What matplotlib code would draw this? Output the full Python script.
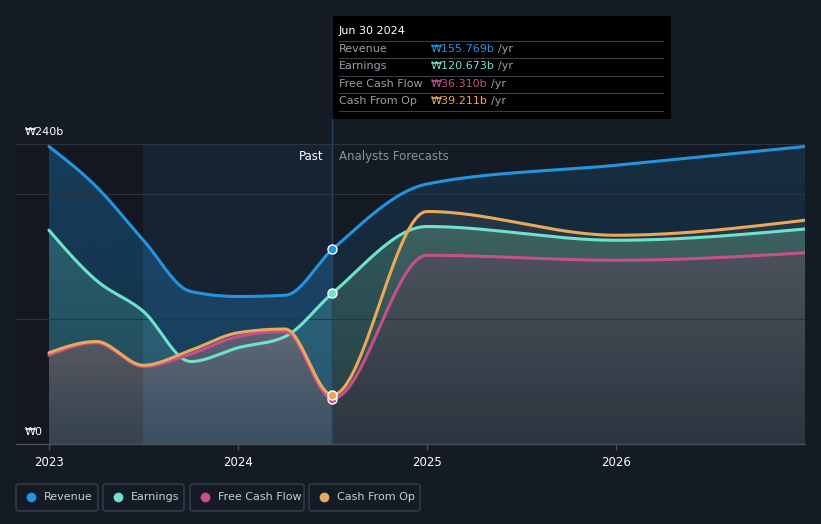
import numpy as np
import matplotlib.pyplot as plt
from matplotlib.patches import FancyBboxPatch, Rectangle, Polygon

# quarterly past values + yearly analyst forecasts (₩b)
dates = [2023.0, 2023.25, 2023.5, 2023.75, 2024.0, 2024.25, 2024.5, 2025.0, 2026.0, 2027.0]
revenue = [238, 206, 163, 122, 118, 119, 155.769, 208, 223, 238]
earnings = [171, 131, 106, 66, 77, 86, 120.673, 174, 163, 172]
fcf = [71, 81, 62, 72, 86, 90, 36.310, 151, 147, 153]
cfo = [73, 82, 63, 75, 89, 92, 39.211, 186, 167, 179]

series = [
    ("Revenue", revenue, "#2394df"),
    ("Earnings", earnings, "#6fe2cc"),
    ("Free Cash Flow", fcf, "#c8508a"),
    ("Cash From Op", cfo, "#e9a95a"),
]
tooltip_values = ["₩155.769b", "₩120.673b", "₩36.310b", "₩39.211b"]
year_ticks = [2023, 2024, 2025, 2026]
now = 2024.5

BG = "#151b25"


def monotone(x, y, n=800):
    # d3 style monotone cubic (curveMonotoneX)
    x = np.asarray(x, float)
    y = np.asarray(y, float)
    h = np.diff(x)
    s = np.diff(y) / h
    m = np.zeros_like(y)
    for i in range(1, len(x) - 1):
        p = (s[i - 1] * h[i] + s[i] * h[i - 1]) / (h[i - 1] + h[i])
        m[i] = (np.sign(s[i - 1]) + np.sign(s[i])) * min(abs(s[i - 1]), abs(s[i]), 0.5 * abs(p))
    m[0] = (3 * s[0] - m[1]) / 2
    m[-1] = (3 * s[-1] - m[-2]) / 2
    xs = np.union1d(np.linspace(x[0], x[-1], n), x)
    idx = np.clip(np.searchsorted(x, xs, side="right") - 1, 0, len(x) - 2)
    t = (xs - x[idx]) / h[idx]
    h00 = 2 * t**3 - 3 * t**2 + 1
    h10 = t**3 - 2 * t**2 + t
    h01 = -2 * t**3 + 3 * t**2
    h11 = t**3 - t**2
    ys = h00 * y[idx] + h10 * h[idx] * m[idx] + h01 * y[idx + 1] + h11 * h[idx] * m[idx + 1]
    return xs, ys


def rgba(rgb, a):
    return np.array([rgb[0] / 255, rgb[1] / 255, rgb[2] / 255, a])


def grad_fill(ax, xs, ys, top, bot):
    # vertical gradient under a curve, top colour at the curve's max
    ymax = ys.max()
    f = np.linspace(0, 1, 256)[:, None]
    img = bot + (top - bot) * f
    img = np.repeat(img[:, None, :], 2, axis=1)
    im = ax.imshow(img, extent=(xs[0], xs[-1], 0, ymax), origin="lower",
                   aspect="auto", interpolation="bilinear", zorder=2)
    verts = [(xs[0], 0)] + list(zip(xs, ys)) + [(xs[-1], 0)]
    clip = Polygon(verts, closed=True, facecolor="none", edgecolor="none", transform=ax.transData)
    ax.add_patch(clip)
    im.set_clip_path(clip)


fig = plt.figure(figsize=(8.21, 5.24), dpi=100, facecolor=BG)
ax = fig.add_axes([16 / 821, 1 - 444 / 524, (805 - 16) / 821, 300 / 524])
ax.set_facecolor(BG)

x0 = 2023 - 33 / 189.3

# fill styles: (top colour, top alpha, bottom colour, bottom alpha), past / forecast
past_fill = {
    "Revenue": ((35, 148, 223), 0.36, (35, 148, 223), 0.22),
    "Cash From Op": ((150, 140, 135), 0.25, (150, 140, 135), 0.18),
    "Earnings": ((111, 226, 204), 0.26, (111, 226, 204), 0.16),
    "Free Cash Flow": ((112, 102, 112), 0.78, (66, 68, 82), 0.65),
}
fc_fill = {
    "Revenue": ((35, 148, 223), 0.15, (35, 148, 223), 0.08),
    "Cash From Op": ((160, 150, 140), 0.12, (160, 150, 140), 0.06),
    "Earnings": ((125, 215, 170), 0.27, (125, 215, 170), 0.14),
    "Free Cash Flow": ((88, 76, 92), 0.62, (44, 46, 58), 0.6),
}
order = ["Revenue", "Cash From Op", "Earnings", "Free Cash Flow"]
data = {name: vals for name, vals, col in series}

for name in order:
    xs, ys = monotone(dates, data[name])
    past = xs <= now
    fut = xs >= now
    p = past_fill[name]
    grad_fill(ax, xs[past], ys[past], rgba(p[0], p[1]), rgba(p[2], p[3]))
    p = fc_fill[name]
    grad_fill(ax, xs[fut], ys[fut], rgba(p[0], p[1]), rgba(p[2], p[3]))

# background bands drawn over the fills
ax.axvspan(x0, 2023.5, color="#000000", alpha=0.12, lw=0, zorder=3)
ax.axvspan(2023.5, now, color="#2a6eb0", alpha=0.1, lw=0, zorder=3)
ax.axvline(now, color="#25425e", lw=1, zorder=3)
ax.plot([now, now], [240, 240 + 25 / 1.25], color="#25425e", lw=1, clip_on=False)

for gy in [100, 200, 240]:
    ax.axhline(gy, color="#2d3440", lw=0.8, zorder=3.5)

for name, vals, col in series:
    xs, ys = monotone(dates, vals)
    ax.plot(xs, ys, color=col, lw=2.2, zorder=4, solid_capstyle="round")

for name, vals, col in series:
    v = vals[dates.index(now)]
    ax.plot([now], [v], "o", ms=6.5, color=col, mec="white", mew=1, zorder=6)

ax.set_xlim(x0, 2027.0)
ax.set_ylim(0, 240)

for sp in ["top", "right", "left"]:
    ax.spines[sp].set_visible(False)
ax.spines["bottom"].set_color("#4a515c")
ax.spines["bottom"].set_linewidth(1)
ax.spines["bottom"].set_zorder(7)

ax.set_yticks([])
ax.set_xticks(year_ticks)
ax.set_xticklabels([str(y) for y in year_ticks], color="white", fontsize=8.5)
ax.tick_params(axis="x", colors="#4a515c", length=4, width=1, pad=5, labelcolor="white")

ax.text(x0 + 9 / 189.3, 240 + 9.5, "₩240b", color="white", fontsize=8, va="center", ha="left")
ax.text(x0 + 9 / 189.3, 9.5, "₩0", color="white", fontsize=8, va="center", ha="left", zorder=8)

ax.text(now - 9 / 189.3, 230, "Past", color="white", fontsize=8.5, ha="right", va="center", zorder=8)
ax.text(now + 7 / 189.3, 230, "Analysts Forecasts", color="#8b919a", fontsize=8.5,
        ha="left", va="center", zorder=8)

# tooltip box
W, H = 821, 524
def fx(px):
    return px / W
def fy(py):
    return 1 - py / H

fig.patches.append(Rectangle((fx(333), fy(119)), fx(671) - fx(333), fy(16) - fy(119),
                             transform=fig.transFigure, facecolor="black", edgecolor="none", zorder=10))
fig.text(fx(339), fy(31), "Jun 30 2024", color="white", fontsize=8, va="center", ha="left", zorder=11)
row_y = [49, 66, 84, 101]
for i, (name, vals, col) in enumerate(series):
    fig.text(fx(339), fy(row_y[i]), name, color="#9aa0a8", fontsize=8, va="center", zorder=11)
    t = fig.text(fx(431), fy(row_y[i]), tooltip_values[i], color=col, fontsize=8, va="center", zorder=11)
    fig.canvas.draw()
    bb = t.get_window_extent()
    fig.text(bb.x1 / W + fx(3), fy(row_y[i]), "/yr", color="#9aa0a8", fontsize=8, va="center", zorder=11)
for ly in [41, 58, 76, 93, 111]:
    fig.lines.append(plt.Line2D([fx(339), fx(663)], [fy(ly), fy(ly)], transform=fig.transFigure,
                                color="#3a3f47", lw=0.8, zorder=11))

# legend buttons
boxes = [(16, 98), (103, 184), (190, 304), (309, 420)]
for (name, vals, col), (bx0, bx1) in zip(series, boxes):
    fig.patches.append(FancyBboxPatch((fx(bx0), fy(511)), fx(bx1) - fx(bx0), fy(484) - fy(511),
                                      boxstyle="round,pad=0,rounding_size=0.004",
                                      transform=fig.transFigure, facecolor="none",
                                      edgecolor="#3a404b", lw=1))
    fig.lines.append(plt.Line2D([fx(bx0 + 15)], [fy(497)], transform=fig.transFigure,
                                marker="o", ms=6, color=col, lw=0))
    fig.text(fx(bx0 + 28), fy(497), name, color="#c9cdd3", fontsize=8, va="center", ha="left")

fig.savefig("out.png", dpi=100, facecolor=BG)
